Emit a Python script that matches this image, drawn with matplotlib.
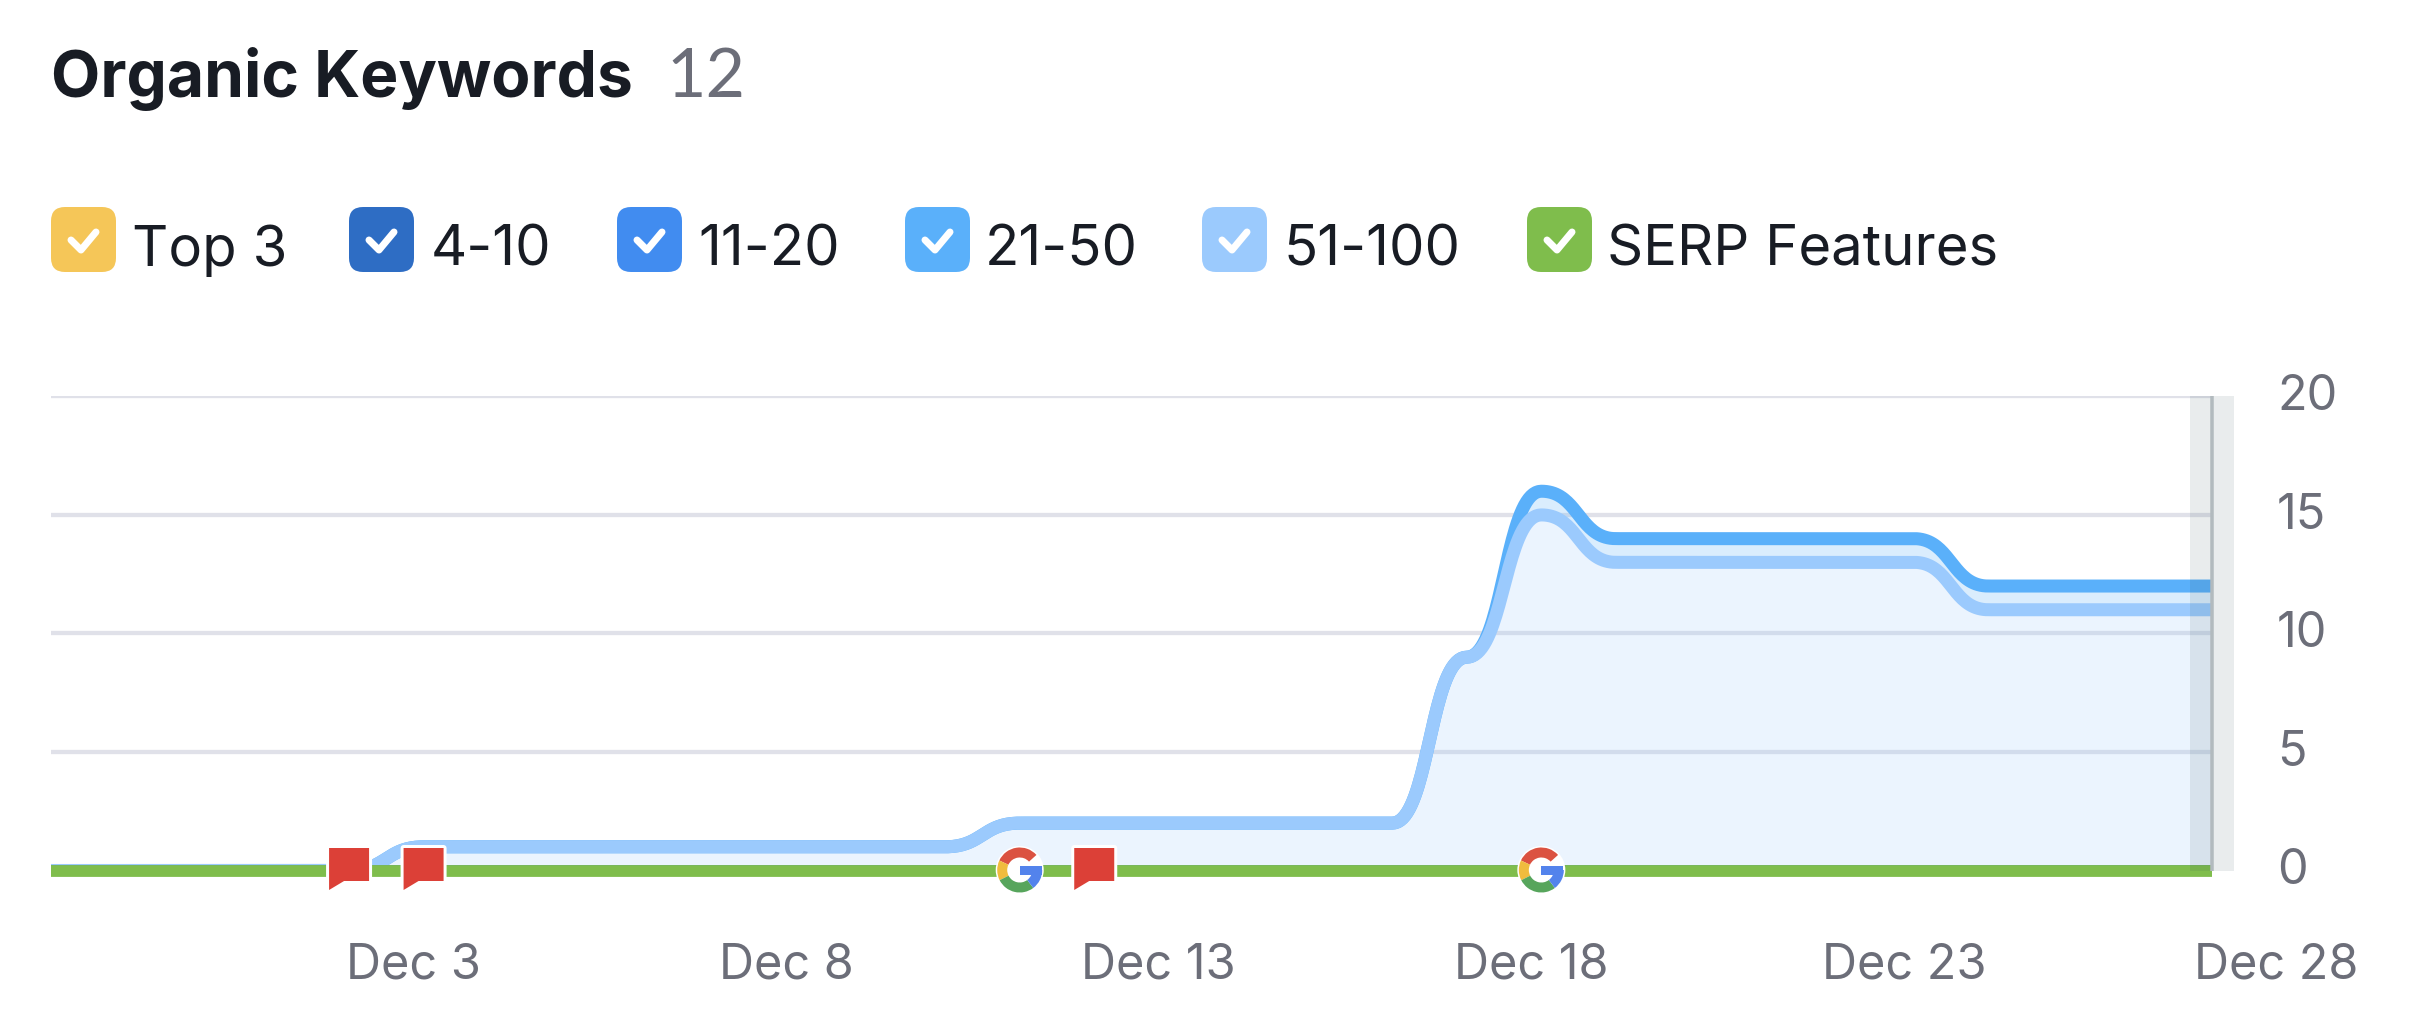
import numpy as np
import matplotlib
matplotlib.use("Agg")
import matplotlib.pyplot as plt
from matplotlib.patches import FancyBboxPatch, Polygon, Wedge, Circle, Rectangle
from matplotlib.transforms import ScaledTranslation

# ---- data ----
days = [-2, -1, 0, 1, 2, 3, 4, 5, 6, 7, 8, 9, 10, 11, 12, 13, 14, 15, 16, 17, 18, 19, 20, 21, 22, 23, 24, 25, 26, 27]
top3 = [0] * 30
pos_4_10 = [0] * 30
pos_11_20 = [0] * 30
pos_21_50 = [0, 0, 0, 0, 0, 0, 0, 0, 0, 0, 0, 0, 0, 0, 0, 0, 0, 0, 0, 0, 1, 1, 1, 1, 1, 1, 1, 1, 1, 1]
pos_51_100 = [0, 0, 0, 0, 0, 1, 1, 1, 1, 1, 1, 1, 1, 2, 2, 2, 2, 2, 2, 9, 15, 13, 13, 13, 13, 13, 11, 11, 11, 11]
serp = [0] * 30
legend_labels = ["Top 3", "4-10", "11-20", "21-50", "51-100", "SERP Features"]
x_tick_days = [3, 8, 13, 18, 23, 28]
x_tick_labels = ["Dec 3", "Dec 8", "Dec 13", "Dec 18", "Dec 23", "Dec 28"]
y_ticks = [0, 5, 10, 15, 20]
note_days = [2, 3, 12]
google_days = [11, 18]
title = "Organic Keywords"
total = "12"

# ---- style ----
W, H = 2418, 1032
DPI = 100
px = 72 / DPI
FONT = "Inter"
C_TOP3, C_410, C_1120, C_2150, C_51100, C_SERP = "#F5C658", "#2E6DC4", "#418CF0", "#5AB0FA", "#9BCAFD", "#7FBD4C"
legend_colors = [C_TOP3, C_410, C_1120, C_2150, C_51100, C_SERP]
legend_box_x = [51, 349, 617, 905, 1202, 1527]
legend_text_x = [132, 431, 698, 985, 1284, 1607]
INK, GREY, GRID = "#181C24", "#6C6E79", "#E0E1E9"

plt.rcParams["font.family"] = [FONT, "DejaVu Sans"]
fig = plt.figure(figsize=(W / DPI, H / DPI), dpi=DPI, facecolor="white")

AX_L, AX_R, AX_T, AX_B = 51, 2286.5, 396.4, 870.5
ax = fig.add_axes([AX_L / W, 1 - AX_B / H, (AX_R - AX_L) / W, (AX_B - AX_T) / H])
ax.set_xlim(-2, 28)
ax.set_ylim(0, 20)
ax.patch.set_alpha(0)
for s in ax.spines.values():
    s.set_visible(False)


def bump(xs, ys, n=40):
    """Horizontal-tangent cubic between successive points."""
    t = np.linspace(0, 1, n)
    out_x, out_y = [], []
    for x0, x1, y0, y1 in zip(xs[:-1], xs[1:], ys[:-1], ys[1:]):
        xm = (x0 + x1) / 2
        out_x.append((1 - t) ** 3 * x0 + 3 * (1 - t) ** 2 * t * xm + 3 * (1 - t) * t ** 2 * xm + t ** 3 * x1)
        out_y.append((1 - t) ** 3 * y0 + 3 * (1 - t) ** 2 * t * y0 + 3 * (1 - t) * t ** 2 * y1 + t ** 3 * y1)
    return np.concatenate(out_x), np.concatenate(out_y)


ax.hlines(y_ticks[1:], days[0], days[-1], color=GRID, lw=4.3 * px, zorder=1)

base = np.zeros(len(days))
stack = []
for vals in [top3, pos_4_10, pos_11_20, pos_51_100, pos_21_50]:
    base = base + np.array(vals)
    stack.append(base.copy())
cx, c51 = bump(days, stack[3])
_, c21 = bump(days, stack[4])
ax.fill_between(cx, 0, c51, color=C_51100, alpha=0.2, lw=0, zorder=2)
ax.fill_between(cx, c51, c21, color=C_2150, alpha=0.22, lw=0, zorder=2)
ax.plot(cx, c21, color=C_2150, lw=13 * px, solid_capstyle="butt", zorder=3)
ax.plot(cx, c51, color=C_51100, lw=13 * px, solid_capstyle="butt", zorder=4)
for vals, col in zip(stack[:3], [C_TOP3, C_410, C_1120]):
    ax.plot(days, vals, color=col, lw=11.8 * px, solid_capstyle="butt", zorder=4.5)
ax.plot(days, serp, color=C_SERP, lw=11.8 * px, solid_capstyle="butt", clip_on=False, zorder=5)

# hover band + guide
ax.axvspan(days[-1] - 0.3, days[-1] + 0.3, color="#2B4B50", alpha=0.1, lw=0, zorder=6)
ax.vlines(days[-1], 0, 20, color="#B2BABE", lw=3.5 * px, zorder=7)

# axes ticks
ax.set_xticks(x_tick_days, x_tick_labels)
ax.yaxis.tick_right()
ax.set_yticks(y_ticks, [str(v) for v in y_ticks])
ax.tick_params(axis="x", length=0, pad=72 * px, labelsize=35, labelcolor=GREY)
ax.tick_params(axis="y", length=0, pad=-9.5 * px, labelsize=35, labelcolor=GREY)
dx = ScaledTranslation(-10 * px / 72, 0, fig.dpi_scale_trans)
dy = ScaledTranslation(0, 4 * px / 72, fig.dpi_scale_trans)
for lab in ax.get_xticklabels():
    lab.set_transform(lab.get_transform() + dx)
for lab in ax.get_yticklabels():
    lab.set_transform(lab.get_transform() + dy)

# ---- overlay in pixel coordinates (y measured from the top) ----
ov = fig.add_axes([0, 0, 1, 1], zorder=10)
ov.set_xlim(0, W)
ov.set_ylim(0, H)
ov.axis("off")


def Y(y):
    return H - y


ov.text(51, Y(97), title, fontsize=46.1, fontweight="bold", color=INK, va="baseline", ha="left")
ov.text(666, Y(97), total, fontsize=49, family="Lato", color=GREY, va="baseline", ha="left")

BOX = 65
for bx, tx, col, lab in zip(legend_box_x, legend_text_x, legend_colors, legend_labels):
    r = 14
    ov.add_patch(FancyBboxPatch((bx + r, Y(272) + r), BOX - 2 * r, BOX - 2 * r,
                                boxstyle=f"round,pad={r},rounding_size={r}", fc=col, ec="none"))
    ov.plot([bx + 20, bx + 30, bx + 45], [Y(240), Y(250), Y(232)], color="white", lw=7 * px,
            solid_capstyle="round", solid_joinstyle="round")
    ov.text(tx, Y(266), lab, fontsize=40.5, color=INK, va="baseline", ha="left")

fig.canvas.draw()


def to_px(day):
    return ax.transData.transform((day, 0))[0]


for d in note_days:
    x0 = to_px(d) - 20
    shape = [(x0, Y(848)), (x0 + 40, Y(848)), (x0 + 40, Y(881)), (x0 + 15, Y(881)), (x0, Y(890))]
    ov.add_patch(Polygon(shape, closed=True, fc="white", ec="white", lw=6 * px, joinstyle="round", zorder=3))
    ov.add_patch(Polygon(shape, closed=True, fc="#DC4037", ec="none", zorder=3.1))

for d in google_days:
    cx0, cy0 = to_px(d), Y(870)
    ov.add_patch(Circle((cx0, cy0), 24, fc="white", ec="none", zorder=3))
    for a0, a1, col in [(42, 155, "#DB5241"), (155, 207, "#F0BC3E"), (207, 307, "#57A55C"), (307, 360, "#5383EC")]:
        ov.add_patch(Wedge((cx0, cy0), 22.5, a0, a1, width=10, fc=col, ec="none", zorder=4))
    ov.add_patch(Rectangle((cx0, cy0 - 5), 22, 9, fc="#5383EC", ec="none", zorder=4))

fig.savefig("out.png", dpi=DPI, facecolor="white")
